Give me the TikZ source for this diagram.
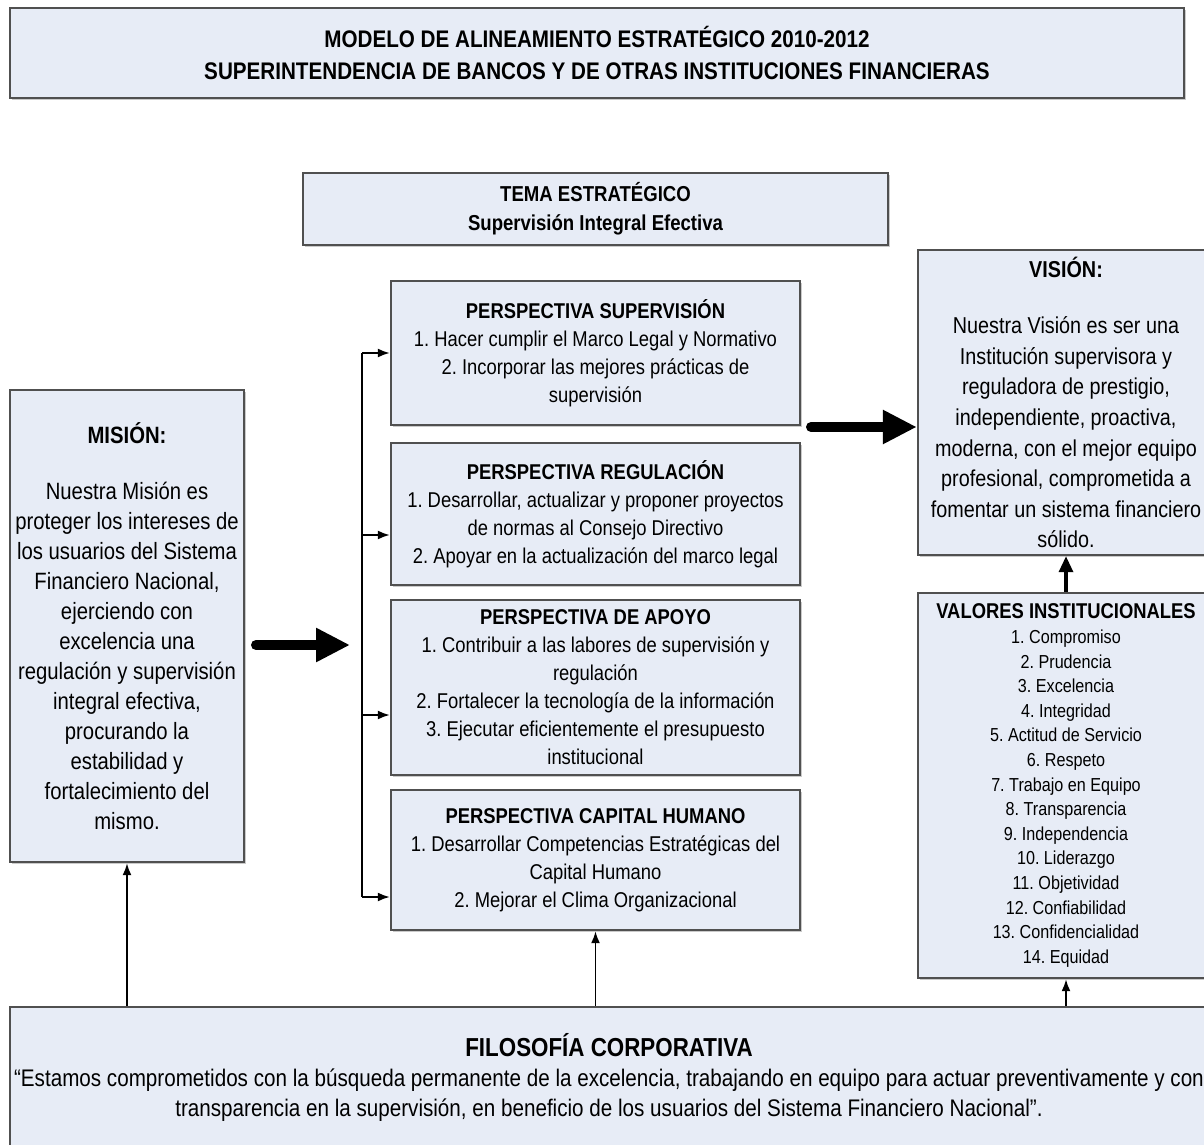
\documentclass[tikz,border=0pt]{standalone}
\usepackage{fontspec}
\setmainfont{Liberation Sans}[FakeStretch=0.86]
\usetikzlibrary{arrows.meta,shadows}

\definecolor{boxblue}{RGB}{231,236,246}
\definecolor{boxline}{RGB}{80,80,80}

\tikzset{
  box/.style={draw=boxline, line width=1.2pt, fill=boxblue, align=center, inner sep=0pt,
    drop shadow={shadow xshift=1.2pt, shadow yshift=-1.2pt, fill=gray!70, opacity=0.6}},
  thin arrow/.style={-{Latex[length=6pt,width=4.5pt]}, line width=0.9pt},
  mid arrow/.style={-{Triangle[length=8pt,width=7pt]}, line width=1.6pt},
  big arrow/.style={-{Triangle[length=17pt,width=16pt]}, line width=5pt, line cap=round},
  perstext/.style={font=\fontsize{10.7}{14}\selectfont}
}
\frenchspacing

\begin{document}
\begin{tikzpicture}[x=0.5pt,y=-0.5pt]
  \clip (0,0) rectangle (1204,1145);

  \node [box, minimum width=587pt, minimum height=45pt, font=\fontsize{12}{16}\selectfont\bfseries] (head) at (597,53)
    {MODELO DE ALINEAMIENTO ESTRATÉGICO 2010-2012\\SUPERINTENDENCIA DE BANCOS Y DE OTRAS INSTITUCIONES FINANCIERAS};

  \node [box, minimum width=292.5pt, minimum height=36pt, font=\fontsize{10.8}{14.5}\selectfont\bfseries] (tema) at (595.5,209)
    {TEMA ESTRATÉGICO\\Supervisión Integral Efectiva};

  \node [box, perstext, minimum width=204.5pt, minimum height=72pt] (sup) at (595.5,353)
    {\textbf{PERSPECTIVA SUPERVISIÓN}\\1. Hacer cumplir el Marco Legal y Normativo\\2. Incorporar las mejores prácticas de\\supervisión};
  \node [box, perstext, minimum width=204.5pt, minimum height=71pt] (reg) at (595.5,514)
    {\textbf{PERSPECTIVA REGULACIÓN}\\1. Desarrollar, actualizar y proponer proyectos\\de normas al Consejo Directivo\\2. Apoyar en la actualización del marco legal};
  \node [box, perstext, minimum width=204.5pt, minimum height=87.5pt] (apoyo) at (595.5,687.5)
    {\textbf{PERSPECTIVA DE APOYO}\\1. Contribuir a las labores de supervisión y\\regulación\\2. Fortalecer la tecnología de la información\\3. Ejecutar eficientemente el presupuesto\\institucional};
  \node [box, perstext, minimum width=204.5pt, minimum height=70pt] (ch) at (595.5,860)
    {\textbf{PERSPECTIVA CAPITAL HUMANO}\\1. Desarrollar Competencias Estratégicas del\\Capital Humano\\2. Mejorar el Clima Organizacional};

  \node [box, minimum width=117pt, minimum height=236pt, font=\fontsize{11.8}{15}\selectfont] (mision) at (127,626)
    {\textbf{MISIÓN:}\\[13pt]Nuestra Misión es\\proteger los intereses de\\los usuarios del Sistema\\Financiero Nacional,\\ejerciendo con\\excelencia una\\regulación y supervisión\\integral efectiva,\\procurando la\\estabilidad y\\fortalecimiento del\\mismo.};

  \node [box, minimum width=148pt, minimum height=152.5pt, font=\fontsize{11.5}{15.3}\selectfont] (vision) at (1066,402.5)
    {\textbf{VISIÓN:}\\[13pt]Nuestra Visión es ser una\\Institución supervisora y\\reguladora de prestigio,\\independiente, proactiva,\\moderna, con el mejor equipo\\profesional, comprometida a\\fomentar un sistema financiero\\sólido.};

  \node [box, minimum width=148pt, minimum height=192.5pt, font=\fontsize{9.4}{12.3}\selectfont] (valores) at (1066,785.5)
    {{\fontsize{10.7}{13.5}\selectfont\textbf{VALORES INSTITUCIONALES}}\\1. Compromiso\\2. Prudencia\\3. Excelencia\\4. Integridad\\5. Actitud de Servicio\\6. Respeto\\7. Trabajo en Equipo\\8. Transparencia\\9. Independencia\\10. Liderazgo\\11. Objetividad\\12. Confiabilidad\\13. Confidencialidad\\14. Equidad};

  \node [box, minimum width=599pt, minimum height=70pt, font=\fontsize{12}{15}\selectfont] (filo) at (609,1077)
    {{\fontsize{13}{15}\selectfont\textbf{FILOSOFÍA CORPORATIVA}}\\\makebox[560pt]{“Estamos comprometidos con la búsqueda permanente de la excelencia, trabajando en equipo para actuar preventivamente y con}\\transparencia en la supervisión, en beneficio de los usuarios del Sistema Financiero Nacional”.};

  \coordinate (bus top) at (362,353);
  \coordinate (bus bottom) at (362,897);
  \draw [line width=0.9pt] (bus top) -- (bus bottom);
  \foreach \y/\n in {353/sup,535/reg,715/apoyo,897/ch}
  {
    \draw [thin arrow] (bus top |- 0,\y) -- (\n.west |- 0,\y);
  }

  \coordinate (mid in) at (256,645);
  \draw [big arrow] (mid in) -- ++(94,0);
  \coordinate (mid out) at (811,427);
  \draw [big arrow] (mid out) -- (vision.west |- mid out);

  \draw [mid arrow] (valores.north) -- (vision.south);
  \foreach \n in {mision,ch,valores}
  {
    \draw [thin arrow] (filo.north -| \n.south) -- (\n.south);
  }
\end{tikzpicture}
\end{document}
